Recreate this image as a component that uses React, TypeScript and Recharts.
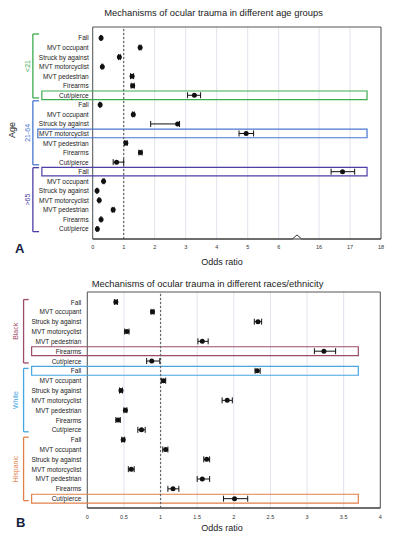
import React from "react";
import {
  ScatterChart,
  Scatter,
  XAxis,
  YAxis,
  CartesianGrid,
  ErrorBar,
  ReferenceLine,
  ReferenceArea,
} from "recharts";

const mechanisms = [
  "Fall",
  "MVT occupant",
  "Struck by against",
  "MVT motorcyclist",
  "MVT pedestrian",
  "Firearms",
  "Cut/pierce",
];

// panel A - age groups
const ageGroups = ["<21", "21-64", ">65"];
const ageOdds = [
  [0.27, 1.53, 0.86, 0.31, 1.27, 1.29, 3.28],
  [0.24, 1.31, 2.74, 4.95, 1.07, 1.54, 0.77],
  [16.76, 0.35, 0.14, 0.21, 0.66, 0.27, 0.15],
];
const ageLow = [
  [0.25, 1.5, 0.83, 0.29, 1.22, 1.24, 3.06],
  [0.22, 1.28, 1.87, 4.72, 1.03, 1.49, 0.66],
  [16.39, 0.33, 0.12, 0.19, 0.63, 0.25, 0.13],
];
const ageHigh = [
  [0.29, 1.56, 0.89, 0.33, 1.32, 1.34, 3.48],
  [0.26, 1.34, 2.8, 5.19, 1.11, 1.59, 1.0],
  [17.15, 0.37, 0.16, 0.23, 0.69, 0.29, 0.17],
];
const ageTicks = [0, 1, 2, 3, 4, 5, 6, 16, 17, 18];
const ageHighlight = [6, 3, 0];
const ageColors = ["#3dab4f", "#4a76cf", "#4c3fa8"];

// panel B - races/ethnicity
const raceGroups = ["Black", "White", "Hispanic"];
const raceOdds = [
  [0.39, 0.89, 2.33, 0.54, 1.57, 3.23, 0.88],
  [2.32, 1.04, 0.46, 1.91, 0.52, 0.42, 0.74],
  [0.49, 1.07, 1.63, 0.6, 1.57, 1.17, 2.01],
];
const raceLow = [
  [0.37, 0.87, 2.28, 0.51, 1.51, 3.1, 0.81],
  [2.29, 1.01, 0.44, 1.84, 0.5, 0.39, 0.69],
  [0.47, 1.03, 1.59, 0.56, 1.5, 1.1, 1.86],
];
const raceHigh = [
  [0.41, 0.91, 2.38, 0.57, 1.65, 3.39, 0.99],
  [2.36, 1.07, 0.48, 1.98, 0.54, 0.45, 0.79],
  [0.51, 1.1, 1.67, 0.64, 1.67, 1.25, 2.19],
];
const raceTicks = [0, 0.5, 1, 1.5, 2, 2.5, 3, 3.5, 4];
const raceHighlight = [5, 0, 6];
const raceColors = ["#9c4b68", "#45a6e2", "#e2804a"];

const FONT = "'Liberation Sans', Arial, sans-serif";

// broken axis for panel A: 0..6 then 16..18
const BREAK_SHIFT = 8.7;
const brk = (v: number) => (v > 10 ? v - BREAK_SHIFT : v);
const unbrk = (t: number) => (t > 6.6 ? Math.round(t + BREAK_SHIFT) : t);

const buildRows = (
  odds: number[][],
  low: number[][],
  high: number[][],
  f: (v: number) => number
) =>
  odds.flatMap((grp, gi) =>
    grp.map((v, mi) => ({
      row: gi * mechanisms.length + mi,
      x: f(v),
      err: [f(v) - f(low[gi][mi]), f(high[gi][mi]) - f(v)],
    }))
  );

const ageData = buildRows(ageOdds, ageLow, ageHigh, brk);
const raceData = buildRows(raceOdds, raceLow, raceHigh, (v) => v);
const rowTicks = ageData.map((d) => d.row);
const rowLabel = (i: number) => mechanisms[i % mechanisms.length] ?? "";

const Dot = (p: any) => <circle cx={p.cx} cy={p.cy} r={2.5} fill="#111" />;

// plain text tick so labels never wrap
const RowTick = (p: any) => (
  <text
    x={p.x}
    y={p.y}
    textAnchor="end"
    dominantBaseline="central"
    fontSize={6.5}
    fill="#222"
    fontFamily={FONT}
  >
    {rowLabel(p.payload.value)}
  </text>
);

const groupLabel =
  (text: string, color: string, dx: number) => (props: any) => {
    const vb = props.viewBox || {};
    const cx = (vb.x ?? 0) - dx;
    const cy = (vb.y ?? 0) + (vb.height ?? 0) / 2;
    return (
      <text
        x={cx}
        y={cy}
        transform={`rotate(-90 ${cx} ${cy})`}
        textAnchor="middle"
        dominantBaseline="central"
        fill={color}
        fontSize={7}
        fontFamily={FONT}
      >
        {text}
      </text>
    );
  };

const brackets = (
  groups: string[],
  colors: string[],
  bx: number,
  tx: number,
  up: number,
  down: number,
  dx: number
) =>
  groups.flatMap((g, gi) => {
    const top = gi * mechanisms.length - up;
    const bot = gi * mechanisms.length + mechanisms.length - 1 + down;
    const c = colors[gi];
    return [
      <ReferenceLine
        key={`bv${gi}`}
        segment={[{ x: bx, y: top }, { x: bx, y: bot }]}
        stroke={c}
        strokeWidth={1.3}
        ifOverflow="visible"
        label={groupLabel(g, c, dx)}
      />,
      <ReferenceLine
        key={`bt${gi}`}
        segment={[{ x: bx, y: top }, { x: tx, y: top }]}
        stroke={c}
        strokeWidth={1.3}
        ifOverflow="visible"
      />,
      <ReferenceLine
        key={`bb${gi}`}
        segment={[{ x: bx, y: bot }, { x: tx, y: bot }]}
        stroke={c}
        strokeWidth={1.3}
        ifOverflow="visible"
      />,
    ];
  });

const highlights = (
  rows: number[],
  colors: string[],
  lefts: number[],
  right: number
) =>
  rows.map((r, gi) => {
    const row = gi * mechanisms.length + r;
    return (
      <ReferenceArea
        key={`hl${gi}`}
        x1={lefts[gi]}
        x2={right}
        y1={row - 0.45}
        y2={row + 0.45}
        fill="none"
        stroke={colors[gi]}
        strokeWidth={1.2}
        ifOverflow="visible"
      />
    );
  });

const textStyle: React.CSSProperties = {
  position: "absolute",
  fontFamily: FONT,
  whiteSpace: "nowrap",
  lineHeight: 1,
  color: "#222",
};

export default function App() {
  const xTick = { fontSize: 5.5, fill: "#333", fontFamily: FONT };
  return (
    <div
      style={{
        position: "absolute",
        left: 0,
        top: 0,
        width: 395,
        height: 539,
        background: "#fff",
        fontFamily: FONT,
      }}
    >
      <div style={{ ...textStyle, left: 213.5, top: 7.5, fontSize: 9.4, transform: "translateX(-50%)" }}>
        Mechanisms of ocular trauma in different age groups
      </div>
      <div style={{ position: "absolute", left: 0, top: 0 }}>
        <ScatterChart width={395} height={270} margin={{ top: 27, right: 14, bottom: 11, left: 0 }}>
          <CartesianGrid horizontal={false} stroke="#dfe3ec" />
          <XAxis
            type="number"
            dataKey="x"
            domain={[0, 9.3]}
            ticks={ageTicks.map(brk)}
            tickFormatter={(t: number) => String(unbrk(t))}
            interval={0}
            tick={xTick}
            tickLine={false}
            tickSize={6}
            tickMargin={0}
            axisLine={{ stroke: "#333" }}
            height={20}
            allowDataOverflow
          />
          <YAxis
            type="number"
            dataKey="row"
            domain={[-1.15, 21.05]}
            reversed
            ticks={rowTicks}
            interval={0}
            tick={RowTick}
            tickLine={false}
            axisLine={false}
            tickSize={2}
            tickMargin={2}
            width={92.7}
            allowDataOverflow
          />
          <ReferenceArea x1={0} x2={9.3} y1={-1.15} y2={21.05} fill="none" stroke="#555" strokeWidth={1} ifOverflow="visible" />
          <ReferenceLine x={1} stroke="#666" strokeWidth={1.2} strokeDasharray="2 2" />
          <ReferenceLine segment={[{ x: 6.44, y: 21.05 }, { x: 6.74, y: 21.05 }]} stroke="#fff" strokeWidth={2.5} ifOverflow="visible" />
          <ReferenceLine segment={[{ x: 6.44, y: 21.05 }, { x: 6.59, y: 20.62 }]} stroke="#333" strokeWidth={1} ifOverflow="visible" />
          <ReferenceLine segment={[{ x: 6.59, y: 20.62 }, { x: 6.74, y: 21.05 }]} stroke="#333" strokeWidth={1} ifOverflow="visible" />
          {highlights(ageHighlight, ageColors, [-1.64, -1.77, -1.64], 8.85)}
          {brackets(ageGroups, ageColors, -1.93, -1.73, 0.42, 0.28, 5.5)}
          <Scatter data={ageData} fill="#111" shape={Dot} isAnimationActive={false}>
            <ErrorBar dataKey="err" direction="x" width={3} stroke="#111" strokeWidth={1} />
          </Scatter>
        </ScatterChart>
      </div>
      <div style={{ ...textStyle, left: 12, top: 130, fontSize: 9, transform: "translate(-50%, -50%) rotate(-90deg)" }}>
        Age
      </div>
      <div style={{ ...textStyle, left: 222, top: 257.5, fontSize: 9, transform: "translateX(-50%)" }}>
        Odds ratio
      </div>
      <div style={{ ...textStyle, left: 15, top: 242, fontSize: 13, fontWeight: "bold", color: "#16223d" }}>A</div>

      <div style={{ ...textStyle, left: 207.5, top: 278.5, fontSize: 9.4, transform: "translateX(-50%)" }}>
        Mechanisms of ocular trauma in different races/ethnicity
      </div>
      <div style={{ position: "absolute", left: 0, top: 270 }}>
        <ScatterChart width={395} height={269} margin={{ top: 22, right: 14.7, bottom: 11, left: 0 }}>
          <CartesianGrid horizontal={false} stroke="#dfe3ec" />
          <XAxis
            type="number"
            dataKey="x"
            domain={[0, 4]}
            ticks={raceTicks}
            interval={0}
            tick={xTick}
            tickLine={false}
            tickSize={6}
            tickMargin={1}
            axisLine={{ stroke: "#333" }}
            height={20}
            allowDataOverflow
          />
          <YAxis
            type="number"
            dataKey="row"
            domain={[-1.02, 20.95]}
            reversed
            ticks={rowTicks}
            interval={0}
            tick={RowTick}
            tickLine={false}
            axisLine={false}
            tickSize={2}
            tickMargin={4}
            width={87.3}
            allowDataOverflow
          />
          <ReferenceArea x1={0} x2={4} y1={-1.02} y2={20.95} fill="none" stroke="#555" strokeWidth={1} ifOverflow="visible" />
          <ReferenceLine x={1} stroke="#666" strokeWidth={1.2} strokeDasharray="2 2" />
          {highlights(raceHighlight, raceColors, [-0.76, -0.76, -0.76], 3.7)}
          {brackets(raceGroups, raceColors, -0.87, -0.8, 0.25, 0.2, 8.5)}
          <Scatter data={raceData} fill="#111" shape={Dot} isAnimationActive={false}>
            <ErrorBar dataKey="err" direction="x" width={3} stroke="#111" strokeWidth={1} />
          </Scatter>
        </ScatterChart>
      </div>
      <div style={{ ...textStyle, left: 222, top: 523.5, fontSize: 9, transform: "translateX(-50%)" }}>
        Odds ratio
      </div>
      <div style={{ ...textStyle, left: 16, top: 516, fontSize: 13, fontWeight: "bold", color: "#16223d" }}>B</div>
    </div>
  );
}
